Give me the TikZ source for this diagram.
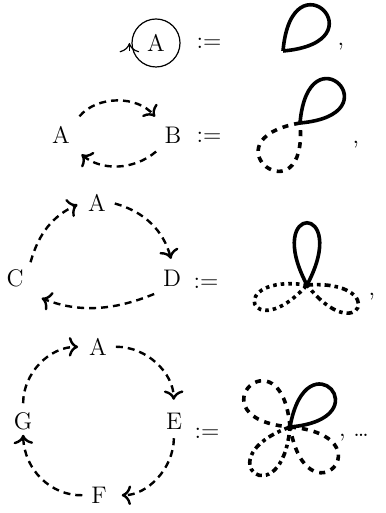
\documentclass[tikz,border=0pt]{standalone}
\usepackage{amsmath}
\usepackage{tikz}
\usetikzlibrary{arrows.meta}

\begin{document}
\begin{tikzpicture}[x=0.5pt,y=0.5pt,
    every node/.style={font=\large},
    arc/.style={very thick,dash pattern=on 3.5pt off 2.5pt,-{To[scale=1.1]}},
    petal/.style={line width=1.8pt}]
        \useasboundingbox (0,0) rectangle (385,513);

        \node[draw,circle,semithick,minimum size=24pt,inner sep=0pt] (a1) at (156,470) {A};
        \draw[semithick,-{To[scale=1.6]}] ([yshift=-4pt,xshift=-1pt]a1.west) -- ([xshift=-1pt]a1.west);
        \node (eq1) at (209,470) {\(:=\)};
        \coordinate (knot1) at (283,462);
        \draw[petal] (knot1) to[out=85,in=5,min distance=50pt] (knot1);
        \node (comma1) at (341,466) {,};

        \node (a2) at (61,378) {A};
        \node (b2) at (173,378) {B};
        \draw[arc,shorten <=2pt,shorten >=2pt] (a2.north east) to[bend left=50] (b2.north west);
        \draw[arc,shorten <=1pt,shorten >=3pt] (b2.south west) to[bend left=40] (a2.south east);
        \node (eq2) at (209,376) {\(:=\)};
        \coordinate (knot2) at (300,390);
        \draw[petal] (knot2) to[out=85,in=5,min distance=48pt] (knot2);
        \draw[petal,dashed] (knot2) to[out=190,in=275,min distance=50pt] (knot2);
        \node (comma2) at (356,368) {,};

        \node (a3) at (97,310) {A};
        \node (c3) at (15,235) {C};
        \node (d3) at (172,235) {D};
        \draw[arc,shorten >=2pt] (c3.north east) to[bend left=25] (a3.west);
        \draw[arc,shorten <=1pt,shorten >=2pt] (a3.east) to[bend left=30] (d3.north);
        \draw[arc,shorten <=1pt,shorten >=6pt] (d3.south west) to[bend left=22] (c3.south east);
        \node (eq3) at (206,230) {\(:=\)};
        \coordinate (knot3) at (307,228);
        \draw[petal] (knot3) to[out=62,in=118,min distance=47pt] (knot3);
        \draw[petal,dotted] (knot3) to[out=172,in=228,min distance=42pt] (knot3);
        \draw[petal,dash dot] (knot3) to[out=4,in=-52,min distance=42pt] (knot3);
        \node (comma3) at (372,216) {,};

        \node (a4) at (98,166) {A};
        \node (e4) at (174,92) {E};
        \node (f4) at (99,18) {F};
        \node (g4) at (23,92) {G};
        \draw[arc,shorten <=1pt,shorten >=3pt] (a4) to[bend left=45] (e4);
        \draw[arc,shorten <=1pt,shorten >=4pt] (e4) to[bend left=45] (f4);
        \draw[arc,shorten <=1pt,shorten >=-1pt] (f4) to[bend left=45] (g4);
        \draw[arc,shorten <=1pt,shorten >=2pt] (g4) to[bend left=45] (a4);
        \node (eq4) at (207,80) {\(:=\)};
        \coordinate (knot4) at (290,86);
        \draw[petal] (knot4) to[out=80,in=5,min distance=47pt] (knot4);
        \draw[petal,dashed] (knot4) to[out=95,in=175,min distance=50pt] (knot4);
        \draw[petal,dash dot] (knot4) to[out=200,in=265,min distance=46pt] (knot4);
        \draw[petal,dashed] (knot4) to[out=-5,in=-80,min distance=50pt] (knot4);
        \node[anchor=west] (dots4) at (332,75) {, \ldots};
    \end{tikzpicture}
\end{document}
